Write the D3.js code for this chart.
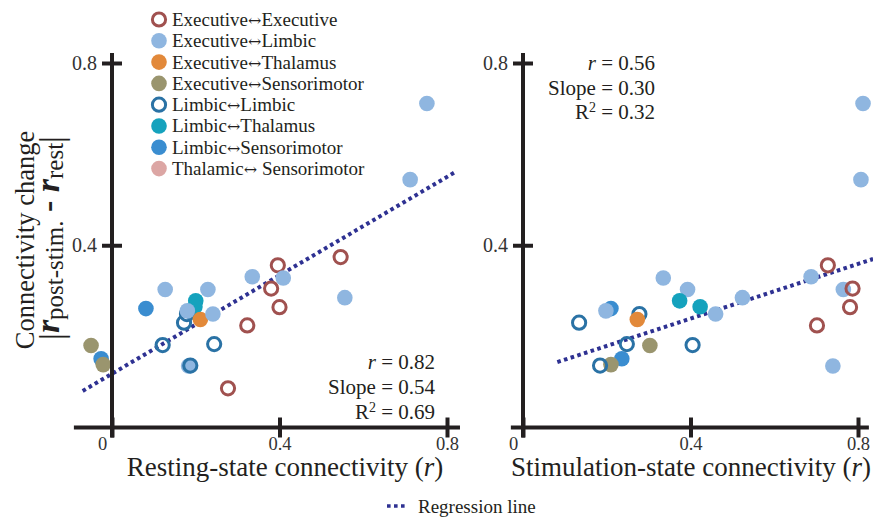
<!DOCTYPE html>
<html>
<head>
<meta charset="utf-8">
<script src="https://cdn.jsdelivr.net/npm/d3@7"></script>
<style>
  html, body { margin: 0; padding: 0; background: #fff; }
  svg { display: block; font-family: "Liberation Serif", "Times New Roman", serif; }
</style>
</head>
<body>
<svg id="chart" width="873" height="520"></svg>
<script>
// Connection categories and their colours (open = ring marker)
const categories = [
  "Executive\u2194Executive",
  "Executive\u2194Limbic",
  "Executive\u2194Thalamus",
  "Executive\u2194Sensorimotor",
  "Limbic\u2194Limbic",
  "Limbic\u2194Thalamus",
  "Limbic\u2194Sensorimotor",
  "Thalamic\u2194 Sensorimotor"
];
const categoryColors = ["#a0514f", "#8fb6e0", "#e2893a", "#9a956e", "#2a72a5", "#15a2bd", "#3a8dd0", "#dca6a4"];
const categoryOpen = [true, false, false, false, true, false, false, false];

// One entry per connection: category index, resting-state r, stimulation-state r, |Δr|
const pairType = [3, 6, 3, 6, 1, 1, 4, 4, 5, 5, 4, 4, 2, 1, 1, 1, 4, 0, 0, 1, 0, 0, 1, 0, 0, 1, 1, 1];
const restR    = [-0.050, -0.026, -0.021, 0.081, 0.127, 0.229, 0.121, 0.244, 0.200, 0.198, 0.179, 0.172, 0.211, 0.241, 0.180, 0.183, 0.187, 0.277, 0.323, 0.335, 0.396, 0.380, 0.409, 0.400, 0.546, 0.556, 0.752, 0.712];
const stimR    = [0.303, 0.236, 0.210, 0.210, 0.393, 0.765, 0.405, 0.248, 0.374, 0.423, 0.278, 0.134, 0.273, 0.460, 0.198, 0.740, 0.184, null, 0.702, 0.688, 0.728, 0.787, 0.335, 0.781, null, 0.524, 0.812, 0.807];
const changeR  = [0.180, 0.151, 0.138, 0.261, 0.303, 0.303, 0.181, 0.183, 0.278, 0.265, 0.249, 0.230, 0.237, 0.249, 0.256, 0.135, 0.136, 0.086, 0.224, 0.331, 0.356, 0.305, 0.328, 0.264, 0.374, 0.285, 0.711, 0.544];

// Regression fits (intercept, slope) and the x-range each line spans
const fitIntercept = [0.118, 0.119];
const fitSlope     = [0.54, 0.30];
const fitRange     = [[-0.07, 0.817], [0.082, 0.836]];
const fitStats = [
  { r: "0.82", slope: "0.54", r2: "0.69" },
  { r: "0.56", slope: "0.30", r2: "0.32" }
];

const xTicks = [0, 0.4, 0.8];
const yTicks = [0.4, 0.8];
const xTitles = ["Resting-state connectivity", "Stimulation-state connectivity"];

const svg = d3.select("#chart");
const axisColor = "#231f20";
const tickColor = "#333";

const y = d3.scaleLinear().domain([0, 0.8]).range([427.5, 63]);
const xScales = [
  d3.scaleLinear().domain([0, 0.8]).range([112, 447]),
  d3.scaleLinear().domain([0, 0.8]).range([523, 858])
];
const xAxisExtent = [[-0.091, 0.831], [-0.029, 0.826]];
const titleCenter = [285, 691];
const panelX = [restR, stimR];

xScales.forEach((x, p) => {
  const g = svg.append("g");

  // regression line (behind the markers)
  const fr = fitRange[p];
  g.append("line")
    .attr("x1", x(fr[0])).attr("y1", y(fitIntercept[p] + fitSlope[p] * fr[0]))
    .attr("x2", x(fr[1])).attr("y2", y(fitIntercept[p] + fitSlope[p] * fr[1]))
    .attr("stroke", "#2e3192").attr("stroke-width", 4)
    .attr("stroke-dasharray", "3.6,3.4");

  // markers
  const pts = d3.range(pairType.length)
    .filter(i => panelX[p][i] !== null)
    .map(i => ({ c: pairType[i], x: panelX[p][i], y: changeR[i] }));
  g.selectAll("circle.pt").data(pts).join("circle")
    .attr("class", "pt")
    .attr("cx", d => x(d.x)).attr("cy", d => y(d.y))
    .attr("r", d => categoryOpen[d.c] ? 6.6 : 7.8)
    .attr("fill", d => categoryOpen[d.c] ? "none" : categoryColors[d.c])
    .attr("stroke", d => categoryOpen[d.c] ? categoryColors[d.c] : "none")
    .attr("stroke-width", 3);

  // x axis
  const xa = g.append("g").attr("transform", `translate(0,${y(0)})`)
    .call(d3.axisBottom(x).tickValues(xTicks).tickSize(10).tickPadding(-1)
      .tickFormat(d => d === 0 ? "0" : d3.format(".1f")(d)));
  xa.select(".domain").remove();
  xa.selectAll(".tick line").attr("y1", -10).attr("y2", 10)
    .attr("stroke", axisColor).attr("stroke-width", 4);
  xa.selectAll(".tick text").attr("font-size", 18.5).attr("fill", tickColor)
    .attr("font-family", "Liberation Serif")
    .attr("dx", d => d === 0 ? -10 : 0);
  g.append("line")
    .attr("x1", x(xAxisExtent[p][0])).attr("x2", x(xAxisExtent[p][1]))
    .attr("y1", y(0)).attr("y2", y(0))
    .attr("stroke", axisColor).attr("stroke-width", 4);

  // y axis
  const ya = g.append("g").attr("transform", `translate(${x(0)},0)`)
    .call(d3.axisLeft(y).tickValues(yTicks).tickSize(10).tickPadding(5)
      .tickFormat(d3.format(".1f")));
  ya.select(".domain").remove();
  ya.selectAll(".tick line").attr("x1", 10).attr("x2", -10)
    .attr("stroke", axisColor).attr("stroke-width", 4);
  ya.selectAll(".tick text").attr("font-size", 20).attr("fill", tickColor)
    .attr("font-family", "Liberation Serif");
  g.append("line")
    .attr("x1", x(0)).attr("x2", x(0))
    .attr("y1", y(0) + 10).attr("y2", y(0.822))
    .attr("stroke", axisColor).attr("stroke-width", 4);

  // x title
  const t = g.append("text")
    .attr("x", titleCenter[p]).attr("y", 476)
    .attr("text-anchor", "middle").attr("font-size", 27).attr("fill", "#231f20");
  t.append("tspan").text(xTitles[p] + " (");
  t.append("tspan").attr("font-style", "italic").text("r");
  t.append("tspan").text(")");

  // fit statistics
  const sx = p === 0 ? 435 : 655;
  const sy = p === 0 ? [369, 394, 419] : [70, 95, 119];
  const s = fitStats[p];
  const st = g.append("g").attr("font-size", 21).attr("fill", "#231f20").attr("text-anchor", "end");
  const t1 = st.append("text").attr("x", sx).attr("y", sy[0]);
  t1.append("tspan").attr("font-style", "italic").text("r");
  t1.append("tspan").text(" = " + s.r);
  st.append("text").attr("x", sx).attr("y", sy[1]).text("Slope = " + s.slope);
  const t3 = st.append("text").attr("x", sx).attr("y", sy[2]);
  t3.append("tspan").text("R");
  t3.append("tspan").attr("font-size", 14).attr("dy", -7).text("2");
  t3.append("tspan").attr("dy", 7).text(" = " + s.r2);
});

// y-axis title
const yt = svg.append("g").attr("fill", "#231f20");
yt.append("text")
  .attr("transform", "translate(34,240) rotate(-90)")
  .attr("text-anchor", "middle").attr("font-size", 26.5)
  .text("Connectivity change");
const sub = yt.append("text")
  .attr("transform", "translate(59,238) rotate(-90)")
  .attr("text-anchor", "middle").attr("font-size", 34);
sub.append("tspan").attr("font-size", 34).attr("dy", 4).text("|");
sub.append("tspan").attr("font-style", "italic").attr("font-weight", "bold").attr("dy", -4).text("r");
sub.append("tspan").attr("font-size", 25).attr("dy", 4).text("post-stim.");
sub.append("tspan").attr("font-weight", "bold").attr("dy", -4).text(" - ");
sub.append("tspan").attr("font-style", "italic").attr("font-weight", "bold").text("r");
sub.append("tspan").attr("font-size", 25).attr("dy", 4).text("rest");
sub.append("tspan").attr("font-size", 34).text("|");

// category legend
const lg = svg.append("g").attr("font-size", 19).attr("fill", "#231f20");
categories.forEach((name, i) => {
  const cy = 19.5 + i * 21.3;
  lg.append("circle")
    .attr("cx", 159).attr("cy", cy)
    .attr("r", categoryOpen[i] ? 6.6 : 7.8)
    .attr("fill", categoryOpen[i] ? "none" : categoryColors[i])
    .attr("stroke", categoryOpen[i] ? categoryColors[i] : "none")
    .attr("stroke-width", 3);
  const txt = lg.append("text").attr("x", 172).attr("y", cy).attr("dy", "0.34em");
  const parts = name.split("\u2194");
  txt.append("tspan").text(parts[0]);
  txt.append("tspan").attr("font-family", "DejaVu Serif").attr("font-size", 16).text("\u2194");
  txt.append("tspan").text(parts[1]);
});

// regression-line legend
svg.append("line")
  .attr("x1", 387).attr("x2", 408).attr("y1", 506).attr("y2", 506)
  .attr("stroke", "#2e3192").attr("stroke-width", 3.5).attr("stroke-dasharray", "3.6,3.4");
svg.append("text").attr("x", 418).attr("y", 513)
  .attr("font-size", 19).attr("fill", "#231f20").text("Regression line");
</script>
</body>
</html>
